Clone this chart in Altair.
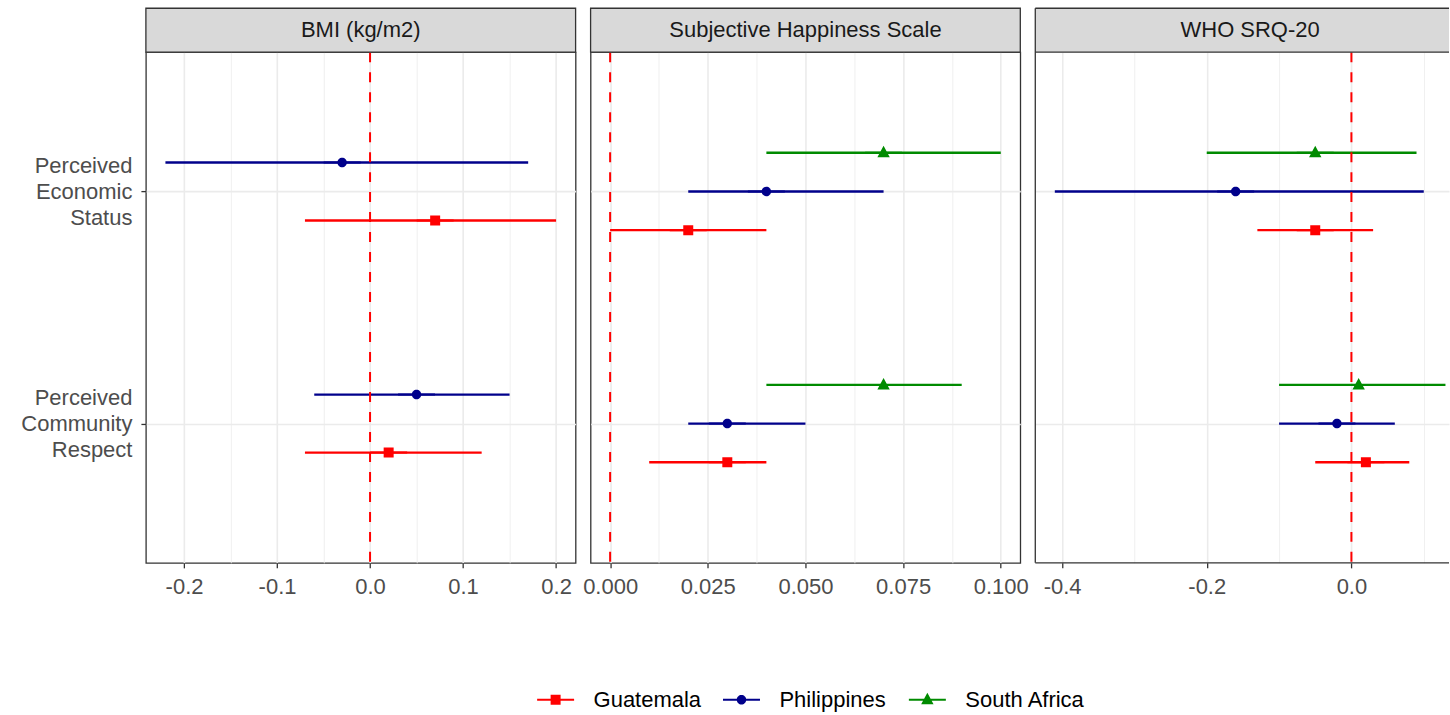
import math
import altair as alt
import pandas as pd

# ---------------- data ----------------
outcomes = ["BMI (kg/m2)", "Subjective Happiness Scale", "WHO SRQ-20"]
predictors = ["Perceived Economic Status", "Perceived Community Respect"]
countries = ["Guatemala", "Philippines", "South Africa"]
country_colors = ["#FF0000", "#00008B", "#008B00"]

bmi_pred = ["Perceived Economic Status", "Perceived Economic Status",
            "Perceived Community Respect", "Perceived Community Respect"]
bmi_country = ["Philippines", "Guatemala", "Philippines", "Guatemala"]
bmi_est = [-0.03, 0.07, 0.05, 0.02]
bmi_lo = [-0.22, -0.07, -0.06, -0.07]
bmi_hi = [0.17, 0.20, 0.15, 0.12]

shs_pred = ["Perceived Economic Status"] * 3 + ["Perceived Community Respect"] * 3
shs_country = ["South Africa", "Philippines", "Guatemala"] * 2
shs_est = [0.07, 0.04, 0.02, 0.07, 0.03, 0.03]
shs_lo = [0.04, 0.02, 0.00, 0.04, 0.02, 0.01]
shs_hi = [0.10, 0.07, 0.04, 0.09, 0.05, 0.04]

srq_pred = ["Perceived Economic Status"] * 3 + ["Perceived Community Respect"] * 3
srq_country = ["South Africa", "Philippines", "Guatemala"] * 2
srq_est = [-0.05, -0.16, -0.05, 0.01, -0.02, 0.02]
srq_lo = [-0.20, -0.41, -0.13, -0.10, -0.10, -0.05]
srq_hi = [0.09, 0.10, 0.03, 0.13, 0.06, 0.08]

major_steps = [0.1, 0.025, 0.2]
label_formats = [".1f", ".3f", ".1f"]
ref_line = [0]

panels = [
    (bmi_pred, bmi_country, bmi_est, bmi_lo, bmi_hi),
    (shs_pred, shs_country, shs_est, shs_lo, shs_hi),
    (srq_pred, srq_country, srq_est, srq_lo, srq_hi),
]

# ---------------- style ----------------
FONT = "Liberation Sans"
W = 430
W3 = 414          # last panel is cut by the right edge of the picture
H = 511
STRIP = 44
FS = 22
BORDER = "#333333"

# marker with a horizontal line through it (unit box -1..1); the line hides under the error bar
line_path = "M-1,-0.054H1V0.054H-1Z"
shape_paths = [
    line_path + " M-0.27,-0.27H0.27V0.27H-0.27Z",
    line_path + " M-0.257,0A0.257,0.257,0,1,1,0.257,0A0.257,0.257,0,1,1,-0.257,0Z",
    line_path + " M0,-0.378L0.335,0.243H-0.335Z",
]
SYM = 37 * 37

color_scale = alt.Scale(domain=countries, range=country_colors)
shape_scale = alt.Scale(domain=countries, range=shape_paths)


def panel(i):
    pred, ctry, est, lo, hi = panels[i]
    df = pd.DataFrame({"predictor": pred, "country": ctry, "est": est, "lo": lo, "hi": hi})
    present = [c for c in countries if c in set(ctry)]
    n = len(present)
    parts = []
    for k, c in enumerate(present):
        parts.append(f"datum.country == '{c}' ? {(k - (n - 1) / 2) * 0.5 / n}")
    dodge = " : ".join(parts) + " : 0"
    ypos_expr = f"(datum.predictor == '{predictors[0]}' ? 2 : 1) + ({dodge})"

    width = W if i < 2 else W3
    dmin, dmax = min(lo), max(hi)
    rng = dmax - dmin
    d0, d1 = dmin - 0.05 * rng, dmax + 0.05 * rng
    d1 = d0 + (d1 - d0) * width / W
    step = major_steps[i]
    minor = step / 2
    vals = []
    v = math.ceil(d0 / minor - 1e-9) * minor
    while v <= d1 + 1e-9:
        vals.append(round(v, 6))
        v += minor
    is_major = f"abs(datum.value / {step} - round(datum.value / {step})) < 1e-6"
    fmt = label_formats[i]

    xaxis = alt.Axis(
        values=vals, title=None, grid=True, gridColor="#EBEBEB",
        gridWidth={"condition": {"test": is_major, "value": 1.6}, "value": 0.8},
        tickOpacity={"condition": {"test": is_major, "value": 1}, "value": 0},
        labelExpr=f"{is_major} ? replace(format(datum.value, '{fmt}'), '\u2212', '-') : ''",
        domain=False, tickColor=BORDER, tickWidth=1.3, tickSize=5,
        labelPadding=9, labelColor="#4D4D4D", labelFontSize=FS, labelFont=FONT,
        labelFlush=False, labelOverlap=False,
    )
    if i == 0:
        yaxis = alt.Axis(
            values=[1, 2], title=None, grid=True, gridColor="#EBEBEB", gridWidth=1.6,
            domain=False,
            labelExpr="datum.value == 2 ? ['Perceived', 'Economic', 'Status'] : ['Perceived', 'Community', 'Respect']",
            labelLineHeight=26, labelOffset=-26, labelFontSize=FS, labelFont=FONT,
            labelColor="#4D4D4D", tickColor=BORDER, tickWidth=1.3, tickSize=5, labelPadding=9,
        )
    else:
        yaxis = alt.Axis(
            values=[1, 2], title=None, grid=True, gridColor="#EBEBEB", gridWidth=1.6,
            labels=False, ticks=False, domain=False, minExtent=0, maxExtent=0,
        )
    xs = alt.Scale(domain=[d0, d1], nice=False, zero=False)
    ys = alt.Scale(domain=[0.4, 2.6], nice=False, zero=False)

    base = alt.Chart(df).transform_calculate(ypos=ypos_expr)
    rules = base.mark_rule(strokeWidth=2.4).encode(
        x=alt.X("lo:Q", scale=xs, axis=xaxis),
        x2="hi:Q",
        y=alt.Y("ypos:Q", scale=ys, axis=yaxis),
        stroke=alt.Stroke("country:N", scale=color_scale, legend=None),
    )
    points = base.mark_point(filled=True, opacity=1, size=SYM, strokeWidth=0).encode(
        x=alt.X("est:Q", scale=xs, axis=xaxis),
        y=alt.Y("ypos:Q", scale=ys, axis=yaxis),
        color=alt.Color("country:N", scale=color_scale, legend=None),
        shape=alt.Shape("country:N", scale=shape_scale, legend=None),
    )
    vline = alt.Chart(pd.DataFrame({"ref": ref_line})).mark_rule(
        color="#FF0000", strokeDash=[10, 10], strokeWidth=2
    ).encode(x=alt.X("ref:Q", scale=xs, axis=xaxis))
    sdf = pd.DataFrame({"label": [outcomes[i]]})
    layers = [rules, points, vline]
    if i < 2:
        layers.append(alt.Chart(sdf).mark_rect(
            fill="#D9D9D9", stroke=BORDER, strokeWidth=1.3
        ).encode(x=alt.value(0), x2=alt.value(width), y=alt.value(-STRIP), y2=alt.value(0)))
    else:
        layers.append(alt.Chart(sdf).mark_rect(fill="#D9D9D9", strokeWidth=0).encode(
            x=alt.value(0), x2=alt.value(width), y=alt.value(-STRIP), y2=alt.value(0)))
        edge = alt.Chart(sdf).mark_rule(color=BORDER, strokeWidth=1.3)
        for yv in (-STRIP, 0, H):
            layers.append(edge.encode(x=alt.value(0), x2=alt.value(width), y=alt.value(yv)))
        layers.append(edge.encode(x=alt.value(0), y=alt.value(-STRIP), y2=alt.value(H)))
    layers.append(alt.Chart(sdf).mark_text(
        fontSize=FS, font=FONT, color="#1A1A1A", baseline="middle", align="center"
    ).encode(text="label:N", x=alt.value(W / 2), y=alt.value(-STRIP / 2)))
    ch = alt.layer(*layers).properties(width=width, height=H)
    if i == 2:
        ch = ch.properties(view=alt.ViewBackground(strokeOpacity=0))
    return ch


# ---------------- legend (drawn from the country list) ----------------
ldf = pd.DataFrame({"country": countries})
lx = alt.X("country:N", scale=alt.Scale(type="point", domain=countries, range=[410, 782], padding=0),
           axis=None)
legend_keys = alt.Chart(ldf).mark_point(filled=True, opacity=1, size=SYM, strokeWidth=0).encode(
    x=lx, y=alt.value(14),
    color=alt.Color("country:N", scale=color_scale, legend=None),
    shape=alt.Shape("country:N", scale=shape_scale, legend=None),
)
legend_text = alt.Chart(ldf).mark_text(
    align="left", baseline="middle", dx=38, fontSize=FS, font=FONT, color="#000000"
).encode(x=lx, y=alt.value(14), text="country:N")
legend_chart = alt.layer(legend_keys, legend_text).properties(
    width=1000, height=28, view=alt.ViewBackground(strokeOpacity=0)
)

panels_row = alt.hconcat(panel(0), panel(1), panel(2), spacing=15, bounds="flush")
chart = alt.vconcat(panels_row, legend_chart, spacing=634, bounds="flush").properties(
    padding={"left": 20, "top": 6, "right": 0, "bottom": 0},
    background="#FFFFFF",
).configure(font=FONT).configure_view(stroke=BORDER, strokeWidth=1.3)

chart.save("out.html", embed_options={"renderer": "svg", "actions": False})
